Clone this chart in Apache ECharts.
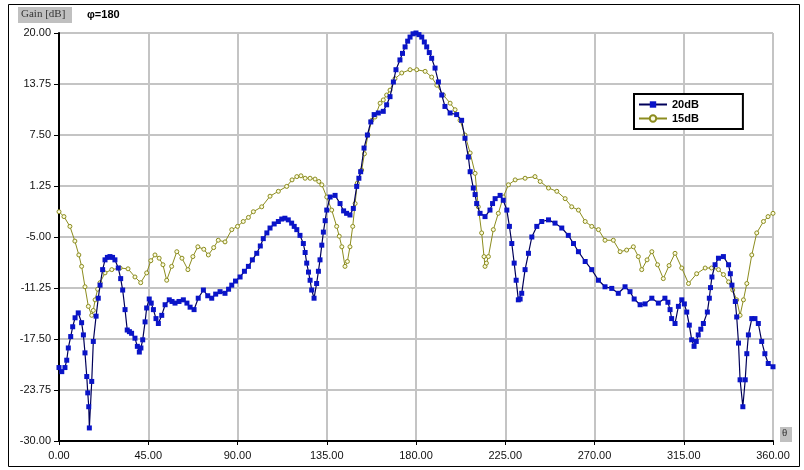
<!DOCTYPE html>
<html>
<head>
<meta charset="utf-8">
<script src="https://cdn.jsdelivr.net/npm/echarts@6/dist/echarts.min.js"></script>
<style>
  html, body { margin: 0; padding: 0; background: #fff; }
  #chart { width: 804px; height: 470px; }
</style>
</head>
<body>
<div id="chart"></div>
<script>
// angle (deg) / gain (dB)
const angle20 = [0, 1.4, 3, 3.9, 4.7, 5.9, 6.9, 8.1, 9.7, 11.4, 12.3, 13.1, 14.0, 14.5, 15.0, 15.3, 16.5, 17.3, 18.7, 19.8,
  20.7, 22.0, 23.2, 24.4, 25.7, 27.0, 28.2, 29.9, 31.1, 32.1, 33.3, 34.4, 35.5, 36.6, 38.3, 39.5, 40.5, 41.3, 42.2, 43.4,
  44.2, 45.5, 46.5, 47.6, 48.9, 50.1, 51.8, 53.5, 55.6, 57, 58.5, 60.5, 62.7, 64.5, 66.1, 68.1, 70.2, 72.8, 75, 77,
  79, 81.2, 83.7, 85.5, 87.1, 89, 91.3, 93.5, 95.5, 97.5, 99.7, 101.5, 103, 104.8, 106.4, 108.5, 110.6, 112.3, 113.9, 115.6,
  117.3, 118.6, 119.9, 121.5, 123.2, 124.1, 124.9, 125.8, 126.6, 127.4, 128.6, 129.9, 130.8, 131.6, 132.5, 133.3, 134.2, 135, 136.7, 139.2,
  141.7, 143.5, 145, 146.7, 148.4, 150.1, 151.2, 152.1, 153.8, 155.5, 157.2, 158.9, 161, 163.5, 165.2, 166.9, 168.6, 169.9, 171.9, 173.2,
  174.5, 175.8, 177, 178.5, 180, 181.5, 182.9, 184.2, 185.4, 186.7, 187.9, 189.6, 191.3, 193, 194.6, 197.2, 200.5, 203, 204.7, 206.4,
  207.3, 208.9, 209.8, 210.6, 212.3, 214.8, 217.3, 218.6, 219.9, 222.4, 224, 225.8, 227.1, 228.3, 229.5, 230.5, 231.6, 232.5, 233.3, 235,
  236.7, 238.4, 240.9, 243.4, 246.8, 250.1, 253.5, 256.8, 259.4, 261.9, 265.3, 268.6, 272, 275.3, 278.7, 282, 285.4, 287.9, 290, 293,
  295.5, 298.9, 302.2, 305.5, 307, 308.1, 308.9, 310.6, 312.3, 314, 315.3, 316.5, 317.8, 319, 320.2, 321.3, 322.3, 323.6, 324.9, 326.9,
  327.9, 328.5, 329.2, 330.8, 332.5, 335, 337.6, 338.5, 339.3, 341, 341.7, 342.6, 343.4, 344.8, 346, 346.8, 347.6, 349.3, 350.9, 352.6,
  354.3, 355.9, 357.6, 360]
const gain20 = [-21.0, -21.5, -21.0, -20.1, -18.6, -17.2, -16.0, -14.9, -14.3, -15.5, -17.0, -19.2, -22.1, -24.1, -25.8, -28.4, -22.7, -17.8, -14.7, -12.5,
  -10.9, -9.0, -7.8, -7.5, -7.4, -7.5, -7.8, -8.8, -10.1, -11.5, -13.9, -16.4, -16.6, -16.8, -17.4, -18.4, -19.1, -18.6, -17.6, -15.4,
  -13.7, -12.6, -13.1, -13.9, -15.0, -15.6, -14.6, -13.3, -12.7, -12.9, -13.1, -12.9, -12.7, -13.1, -13.6, -13.9, -12.5, -11.5, -12.2, -12.5,
  -12.0, -11.7, -11.9, -11.4, -10.9, -10.4, -9.9, -9.2, -8.6, -7.8, -7.0, -6.1, -5.2, -4.5, -3.9, -3.4, -3.1, -2.8, -2.7, -2.9,
  -3.3, -3.7, -4.1, -4.8, -5.8, -6.9, -8.2, -9.3, -10.3, -11.5, -12.5, -10.7, -9.2, -7.8, -6.0, -4.4, -3.0, -1.7, -0.1, 0.1,
  -0.9, -1.8, -2.1, -2.3, -1.5, 1.2, 2.2, 3.0, 5.9, 7.5, 9.1, 10.0, 10.2, 10.4, 11.2, 12.2, 14.0, 15.5, 16.7, 17.5,
  18.3, 19.0, 19.5, 19.9, 20.0, 19.8, 19.5, 18.9, 18.3, 17.6, 16.9, 15.7, 14.0, 12.4, 11.0, 10.2, 10.0, 9.3, 7.1, 4.8,
  3.0, 1.0, 0.2, -0.9, -2.1, -2.5, -1.7, -0.9, -0.3, 0.1, -0.5, -1.7, -3.7, -5.8, -8.2, -10.3, -12.7, -12.6, -11.9, -9.0,
  -7.0, -5.0, -3.7, -3.1, -2.9, -3.3, -3.9, -4.8, -5.8, -6.8, -8.0, -9.0, -10.3, -11.1, -11.3, -11.9, -11.1, -11.7, -12.6, -13.3,
  -13.2, -12.5, -13.1, -12.5, -13.0, -13.9, -15.0, -15.6, -13.5, -12.7, -13.2, -14.2, -15.8, -17.6, -18.4, -17.8, -17.0, -16.3, -15.6, -14.2,
  -12.5, -11.2, -9.9, -8.4, -7.6, -7.4, -8.4, -9.5, -10.9, -12.9, -14.8, -18.0, -22.5, -25.8, -22.5, -19.3, -17.0, -15.0, -15.0, -15.6,
  -17.8, -19.3, -20.5, -20.9]

const angle15 = [0, 2.5, 5.5, 8, 10, 11.4, 13.1, 14.8, 16.5, 17.3, 18.2, 19.5, 20.7, 23.2, 26.6, 30.8, 34.8, 38.3, 41.2, 44.2,
  46.3, 48.4, 50.5, 52.4, 54.3, 56.8, 59.4, 62, 65, 67.5, 70, 73, 75.3, 78, 80.3, 83.7, 87.1, 90, 92.9, 95.5,
  98, 102.2, 106.4, 110.6, 114.8, 117.5, 119.9, 122, 124.1, 126.6, 129.1, 131, 132.5, 135, 137.5, 140, 141.3, 142.6, 144.2, 145.4,
  146.7, 148.1, 149.3, 150.4, 152.6, 154, 155.8, 157.7, 159.3, 161.9, 163.5, 165.2, 166.9, 169.4, 172.8, 177, 180.4, 184.6, 187.9, 190.5,
  193.8, 197.2, 199.7, 202.2, 204.7, 207.3, 209.8, 211.4, 213.1, 214.3, 214.8, 215.5, 216.5, 219, 221.5, 224, 226.6, 230, 235, 240,
  242.6, 246.8, 251, 255.2, 258.5, 261.9, 265.3, 268.6, 272, 275.3, 279.5, 282.9, 286.2, 289.6, 292.1, 293.8, 296.5, 298.9, 301.8, 304.7,
  307.6, 310.6, 314, 317.4, 321.5, 325.8, 329, 332.5, 335, 337.6, 339.7, 341.7, 343.4, 345.1, 346.8, 349.3, 351.8, 355.2, 357.5, 360]
const gain15 = [-1.9, -2.5, -3.7, -5.5, -7.2, -8.6, -11.1, -13.5, -14.6, -14.0, -12.7, -11.4, -10.6, -9.4, -9.0, -8.8, -8.9, -9.9, -10.6, -9.4,
  -7.9, -7.2, -7.6, -8.4, -10.3, -8.6, -6.8, -7.6, -9.0, -7.4, -6.2, -6.5, -7.2, -6.3, -5.4, -5.6, -4.1, -3.7, -3.1, -2.6,
  -1.9, -1.3, 0.0, 0.6, 1.2, 2.0, 2.4, 2.5, 2.2, 2.2, 2.1, 1.8, 1.4, -0.1, -1.7, -3.7, -4.9, -6.2, -8.6, -8.0,
  -6.2, -3.7, -0.9, 1.6, 3.2, 5.2, 7.5, 9.3, 9.7, 11.4, 11.8, 12.4, 13.0, 14.4, 15.1, 15.5, 15.5, 15.3, 14.6, 13.6,
  12.4, 11.4, 10.6, 9.3, 7.5, 5.3, 2.8, -1.3, -4.5, -7.4, -8.6, -8.2, -7.4, -4.1, -2.1, -0.1, 1.4, 2.0, 2.2, 2.4,
  1.8, 1.0, 0.6, -0.3, -1.3, -1.7, -3.1, -3.7, -4.1, -5.4, -5.4, -6.8, -6.6, -6.2, -7.4, -9.0, -7.8, -6.8, -8.4, -10.1,
  -8.5, -7.0, -8.8, -10.7, -9.5, -8.8, -8.8, -9.0, -9.6, -10.5, -11.5, -12.7, -14.6, -12.7, -10.7, -7.2, -4.5, -3.1, -2.5, -2.1]

const yTicks = { min: -30, max: 20, step: 6.25 }
const xTicks = { min: 0, max: 360, step: 45 }

const pairs = (xs, ys) => xs.map((x, i) => [x, ys[i]])

const labelFont = { fontFamily: 'Liberation Sans', fontSize: 11, color: '#111' }

const chart = echarts.init(document.getElementById('chart'), null, { renderer: 'canvas' })
chart.setOption({
  animation: false,
  backgroundColor: '#fff',
  grid: { left: 59, right: 31, top: 33, bottom: 29 },
  legend: {
    orient: 'vertical',
    left: 634,
    top: 94,
    itemGap: 3,
    itemWidth: 28,
    itemHeight: 8,
    padding: [5, 44, 5, 4],
    borderColor: '#000',
    borderWidth: 2,
    backgroundColor: '#fff',
    textStyle: { fontFamily: 'Liberation Sans', fontSize: 11, fontWeight: 'bold', color: '#000' },
    data: ['20dB', '15dB']
  },
  xAxis: {
    type: 'value',
    min: xTicks.min,
    max: xTicks.max,
    interval: xTicks.step,
    axisLine: { onZero: false, lineStyle: { color: '#000', width: 2 } },
    axisTick: { show: true, length: 4, lineStyle: { color: '#000' } },
    axisLabel: Object.assign({ margin: 9, formatter: v => v.toFixed(2) }, labelFont),
    splitLine: { lineStyle: { color: '#c4c4c4', width: 2 } }
  },
  yAxis: {
    type: 'value',
    min: yTicks.min,
    max: yTicks.max,
    interval: yTicks.step,
    axisLine: { show: true, onZero: false, lineStyle: { color: '#000', width: 2 } },
    axisTick: { show: true, length: 5, lineStyle: { color: '#000' } },
    axisLabel: Object.assign({ margin: 8, formatter: v => v.toFixed(2) }, labelFont),
    splitLine: { lineStyle: { color: '#c4c4c4', width: 2 } }
  },
  series: [
    {
      name: '15dB',
      type: 'line',
      data: pairs(angle15, gain15),
      symbol: 'circle',
      symbolSize: 4,
      showSymbol: true,
      showAllSymbol: true,
      z: 2,
      lineStyle: { color: '#8c8c1e', width: 1 },
      itemStyle: { color: '#fbfbe0', borderColor: '#8c8c1e', borderWidth: 1 }
    },
    {
      name: '20dB',
      type: 'line',
      data: pairs(angle20, gain20),
      symbol: 'rect',
      symbolSize: 5,
      showSymbol: true,
      showAllSymbol: true,
      z: 3,
      lineStyle: { color: '#00005a', width: 1.2 },
      itemStyle: { color: '#0a14c8' }
    }
  ],
  graphic: [
    // outer frame
    { type: 'rect', shape: { x: 8.5, y: 4.5, width: 791, height: 462 }, style: { fill: null, stroke: '#000', lineWidth: 1 }, silent: true },
    { type: 'rect', shape: { x: 18, y: 7, width: 54, height: 16 }, style: { fill: '#c0c0c0' } },
    { type: 'text', left: 21, top: 9, style: { text: 'Gain [dB]', fontFamily: 'Liberation Serif', fontSize: 11, fill: '#333' } },
    { type: 'text', left: 87, top: 9, style: { text: 'φ=180', fontFamily: 'Liberation Sans', fontSize: 11, fontWeight: 'bold', fill: '#000' } },
    { type: 'rect', shape: { x: 780, y: 427, width: 12, height: 15 }, style: { fill: '#c0c0c0' } },
    { type: 'text', left: 782, top: 428, style: { text: 'θ', fontFamily: 'Liberation Serif', fontSize: 11, fill: '#333' } }
  ]
})
</script>
</body>
</html>
